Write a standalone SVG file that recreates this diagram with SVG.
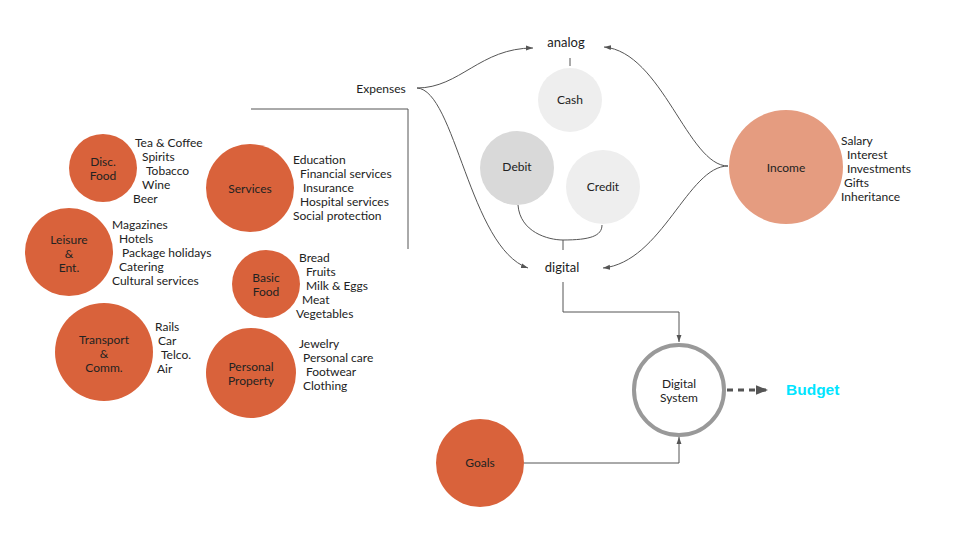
<svg xmlns="http://www.w3.org/2000/svg" width="960" height="540" viewBox="0 0 960 540">
<style>
text{font-family:Lato,"Noto Sans",sans-serif;font-size:12px;fill:#222}
.c{text-anchor:middle}
.o{fill:#D9623B}
.ln{fill:none;stroke:#555;stroke-width:1}
.big{font-size:13px}
</style>
<defs>
<marker id="ah" viewBox="0 0 10 10" refX="10" refY="5" markerWidth="7" markerHeight="7" markerUnits="userSpaceOnUse" orient="auto"><path d="M0,1.5 L10,5 L0,8.5 z" fill="#555"/></marker>
<marker id="ah2" viewBox="0 0 10 10" refX="10" refY="5" markerWidth="12" markerHeight="12" markerUnits="userSpaceOnUse" orient="auto"><path d="M0,1 L10,5 L0,9 z" fill="#555"/></marker>
</defs>
<rect width="960" height="540" fill="#fff"/>
<g id="connectors">
<path class="ln" d="M251,109 H408 V249"/>
<path class="ln" d="M417,88 C460,88 480,48 533,48" marker-end="url(#ah)"/>
<path class="ln" d="M417,88 C455,90 470,248 528,268" marker-end="url(#ah)"/>
<path class="ln" d="M728,166 C688,166 662,52 604,47" marker-end="url(#ah)"/>
<path class="ln" d="M728,166 C688,166 662,262 603,268" marker-end="url(#ah)"/>
<path class="ln" d="M570,58 V66"/>
<path class="ln" d="M518,205 C520,232 548,240 563,240 C590,240 602,236 602,225"/>
<path class="ln" d="M563,240 V250"/>
<path class="ln" d="M563,282 V312 H679 V342" marker-end="url(#ah)"/>
<path class="ln" d="M524,463 H679 V437" marker-end="url(#ah)"/>
<path d="M727,390 H768" fill="none" stroke="#555" stroke-width="3" stroke-dasharray="6,5" marker-end="url(#ah2)"/>
</g>
<g id="disc-food"><circle class="o" cx="103" cy="168" r="34"/><text class="c" x="103" y="166">Disc.</text><text class="c" x="103" y="180">Food</text>
<text x="135" y="147">Tea &amp; Coffee</text><text x="142" y="161">Spirits</text><text x="146" y="175">Tobacco</text><text x="142" y="189">Wine</text><text x="133" y="203">Beer</text></g>
<g id="leisure"><circle class="o" cx="69" cy="252" r="44"/><text class="c" x="69" y="244">Leisure</text><text class="c" x="69" y="258">&amp;</text><text class="c" x="69" y="272">Ent.</text>
<text x="112" y="229">Magazines</text><text x="119" y="243">Hotels</text><text x="122" y="257">Package holidays</text><text x="119" y="271">Catering</text><text x="112" y="285">Cultural services</text></g>
<g id="services"><circle class="o" cx="250" cy="188" r="44"/><text class="c" x="250" y="193">Services</text>
<text x="293" y="164">Education</text><text x="300" y="178">Financial services</text><text x="303" y="192">Insurance</text><text x="300" y="206">Hospital services</text><text x="293" y="220">Social protection</text></g>
<g id="basic-food"><circle class="o" cx="266" cy="284" r="34"/><text class="c" x="266" y="282">Basic</text><text class="c" x="266" y="296">Food</text>
<text x="299" y="262">Bread</text><text x="306" y="276">Fruits</text><text x="306" y="290">Milk &amp; Eggs</text><text x="302" y="304">Meat</text><text x="296" y="318">Vegetables</text></g>
<g id="transport"><circle class="o" cx="104" cy="352" r="49"/><text class="c" x="104" y="344">Transport</text><text class="c" x="104" y="358">&amp;</text><text class="c" x="104" y="372">Comm.</text>
<text x="155" y="331">Rails</text><text x="158" y="345">Car</text><text x="161" y="359">Telco.</text><text x="157" y="373">Air</text></g>
<g id="personal-property"><circle class="o" cx="251" cy="373" r="45"/><text class="c" x="251" y="371">Personal</text><text class="c" x="251" y="385">Property</text>
<text x="299" y="348">Jewelry</text><text x="303" y="362">Personal care</text><text x="306" y="376">Footwear</text><text x="303" y="390">Clothing</text></g>
<g id="expenses"><text class="c" x="381" y="93">Expenses</text></g>
<g id="analog"><text class="c big" x="566" y="47">analog</text></g>
<g id="digital"><text class="c big" x="562" y="272">digital</text></g>
<g id="cash"><circle cx="570" cy="100" r="32" fill="#EEEEEE"/><text class="c" x="570" y="104">Cash</text></g>
<g id="debit"><circle cx="517" cy="168" r="37" fill="#D9D9D9"/><text class="c" x="517" y="171">Debit</text></g>
<g id="credit"><circle cx="603" cy="187" r="37" fill="#EEEEEE"/><text class="c" x="603" y="191">Credit</text></g>
<g id="income"><circle cx="786" cy="167" r="57" fill="#E59C80"/><text class="c" x="786" y="172">Income</text>
<text x="841" y="145">Salary</text><text x="847" y="159">Interest</text><text x="847" y="173">Investments</text><text x="844" y="187">Gifts</text><text x="841" y="201">Inheritance</text></g>
<g id="digital-system"><circle cx="679" cy="390" r="45" fill="#fff" stroke="#999" stroke-width="4"/><text class="c" x="679" y="388">Digital</text><text class="c" x="679" y="402">System</text></g>
<g id="goals"><circle class="o" cx="480" cy="463" r="44"/><text class="c" x="480" y="467">Goals</text></g>
<g id="budget"><text x="786" y="395" style="font-family:'Liberation Sans',Arial,sans-serif;font-weight:bold;font-size:15.5px;fill:#00E5FF">Budget</text></g>
</svg>
